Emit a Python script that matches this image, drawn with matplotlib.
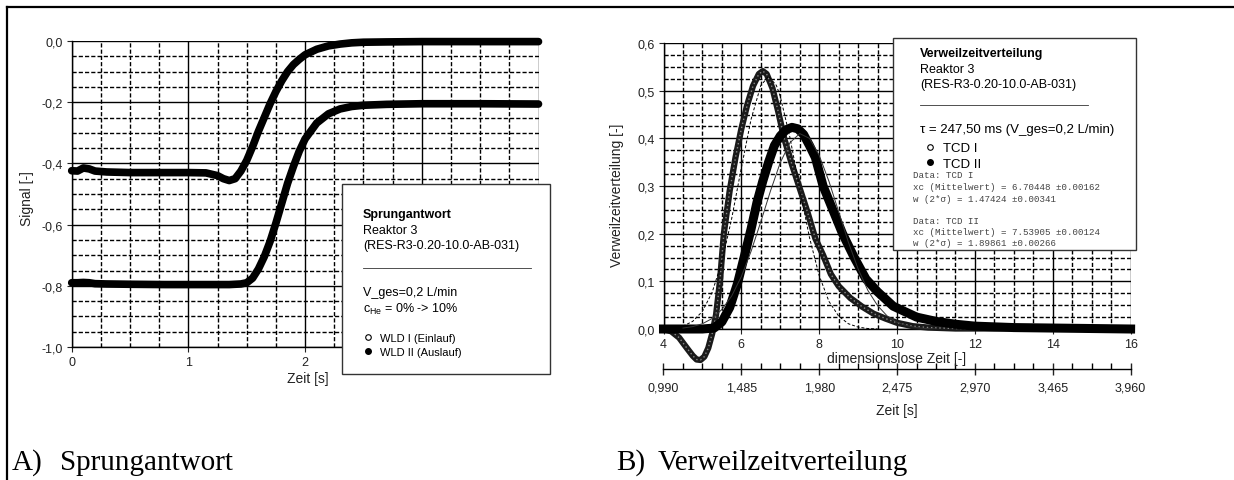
import numpy as np
import matplotlib.pyplot as plt
from matplotlib.ticker import MultipleLocator, FixedLocator, FuncFormatter
from matplotlib.patches import Rectangle
from matplotlib.lines import Line2D

plt.rcParams['font.family'] = ['Liberation Sans', 'DejaVu Sans']

# A) Sprungantwort - Zeit [s], Signal [-]
t_step = [0.0, 0.05, 0.1, 0.15, 0.2, 0.3, 0.5, 0.8, 1.0, 1.15, 1.25, 1.3, 1.35, 1.4,
          1.45, 1.5, 1.55, 1.6, 1.65, 1.7, 1.75, 1.8, 1.85, 1.9, 1.95, 2.0, 2.1, 2.2,
          2.3, 2.4, 2.5, 2.7, 3.0, 3.5, 4.0]
wld1 = [-0.424, -0.425, -0.415, -0.418, -0.425, -0.428, -0.430, -0.430, -0.430, -0.431,
        -0.440, -0.450, -0.456, -0.450, -0.425, -0.390, -0.345, -0.295, -0.250, -0.205,
        -0.165, -0.130, -0.100, -0.077, -0.060, -0.045, -0.027, -0.016, -0.010, -0.006,
        -0.004, -0.003, -0.002, -0.002, -0.002]
wld2 = [-0.790, -0.790, -0.789, -0.790, -0.793, -0.794, -0.795, -0.796, -0.796, -0.796,
        -0.796, -0.796, -0.796, -0.795, -0.794, -0.790, -0.775, -0.745, -0.705, -0.655,
        -0.595, -0.530, -0.465, -0.410, -0.360, -0.320, -0.268, -0.238, -0.222, -0.214,
        -0.210, -0.207, -0.205, -0.205, -0.206]

# B) Verweilzeitverteilung - dimensionslose Zeit [-]
theta1 = [4.0, 4.2, 4.4, 4.6, 4.75, 4.85, 4.95, 5.05, 5.15, 5.25, 5.35, 5.45, 5.55, 5.7,
          5.85, 6.0, 6.15, 6.3, 6.45, 6.55, 6.65, 6.8, 6.95, 7.1, 7.3, 7.5, 7.7, 7.9,
          8.1, 8.3, 8.5, 8.8, 9.1, 9.4, 9.7, 10.0, 10.4, 10.8, 11.5, 12.5, 13.5, 14.5,
          15.5, 16.0]
tcd1 = [0.0, -0.005, -0.018, -0.040, -0.056, -0.064, -0.065, -0.058, -0.040, -0.010,
        0.030, 0.100, 0.200, 0.290, 0.360, 0.420, 0.470, 0.510, 0.535, 0.541, 0.535,
        0.505, 0.455, 0.400, 0.345, 0.295, 0.245, 0.190, 0.155, 0.115, 0.090, 0.065,
        0.047, 0.032, 0.022, 0.013, 0.006, 0.003, 0.001, 0.001, 0.002, 0.003, 0.0, 0.0]
theta2 = [4.0, 4.5, 5.0, 5.3, 5.5, 5.7, 5.9, 6.1, 6.25, 6.4, 6.55, 6.7, 6.85, 7.0, 7.15,
          7.3, 7.45, 7.6, 7.75, 7.9, 8.1, 8.3, 8.6, 8.9, 9.2, 9.5, 9.9, 10.5, 11.0, 11.5,
          12.0, 13.0, 14.0, 15.0, 16.0]
tcd2 = [0.0, 0.0, 0.0, 0.002, 0.015, 0.045, 0.095, 0.160, 0.210, 0.265, 0.310, 0.350,
        0.385, 0.405, 0.418, 0.423, 0.420, 0.408, 0.385, 0.360, 0.300, 0.260, 0.200,
        0.150, 0.105, 0.078, 0.048, 0.025, 0.016, 0.010, 0.006, 0.003, 0.002, 0.001, 0.0]

# Gauss fits
fit1_x = [4.25, 4.5, 4.75, 5.0, 5.25, 5.5, 5.75, 6.0, 6.25, 6.5, 6.7, 6.9, 7.0, 7.25,
          7.5, 7.75, 8.0, 8.25, 8.5, 8.75, 9.0, 9.25, 9.5]
fit1_y = [0.002, 0.006, 0.016, 0.037, 0.077, 0.141, 0.231, 0.338, 0.440, 0.511, 0.530,
          0.511, 0.488, 0.401, 0.294, 0.192, 0.112, 0.058, 0.027, 0.011, 0.004, 0.001, 0.0]
fit2_x = [4.5, 4.75, 5.0, 5.25, 5.5, 5.75, 6.0, 6.25, 6.5, 6.75, 7.0, 7.25, 7.5, 7.75,
          8.0, 8.25, 8.5, 8.75, 9.0, 9.25, 9.5, 9.75, 10.0, 10.25, 10.5, 10.75, 11.0]
fit2_y = [0.002, 0.005, 0.011, 0.022, 0.041, 0.069, 0.110, 0.163, 0.225, 0.290, 0.349,
          0.391, 0.410, 0.400, 0.364, 0.310, 0.246, 0.182, 0.126, 0.081, 0.049, 0.027,
          0.014, 0.007, 0.003, 0.001, 0.0]

tau = 0.2475  # s
sec_ticks = [0.990, 1.485, 1.980, 2.475, 2.970, 3.465, 3.960]

W, H = 1234, 481


def fx(px):
    return px / W


def fy(py):
    return 1 - py / H


def comma(fmt):
    return FuncFormatter(lambda v, p: (fmt % (0.0 if abs(v) < 1e-9 else v)).replace('.', ','))


def style_grid(ax):
    ax.grid(which='major', color='k', lw=1.0, ls='-')
    ax.grid(which='minor', color='k', lw=1.0, ls=(0, (3, 1.5)))
    ax.tick_params(which='minor', length=0)
    ax.tick_params(which='major', direction='out', length=3.5, width=0.8,
                   labelsize=9, pad=3, colors='#222')
    for s in ['top', 'right']:
        ax.spines[s].set_visible(False)
    for s in ['left', 'bottom']:
        ax.spines[s].set_linewidth(1.0)


fig = plt.figure(figsize=(W / 100, H / 100), dpi=100)

# ---- A) Sprungantwort ----
ax1 = fig.add_axes([fx(71.7), fy(348), (538.5 - 71.7) / W, 306 / H])
ax1.plot(t_step, wld1, color='k', lw=5.5, solid_capstyle='round', clip_on=False, zorder=3)
ax1.plot(t_step, wld2, color='k', lw=5.5, solid_capstyle='round', clip_on=False, zorder=3)
ax1.set_xlim(0, 4)
ax1.set_ylim(-1, 0)
ax1.xaxis.set_major_locator(MultipleLocator(1))
ax1.xaxis.set_minor_locator(MultipleLocator(0.25))
ax1.yaxis.set_major_locator(MultipleLocator(0.2))
ax1.yaxis.set_minor_locator(MultipleLocator(0.05))
ax1.yaxis.set_major_formatter(comma('%.1f'))
style_grid(ax1)
ax1.set_xlabel('Zeit [s]', fontsize=10, color='#222')
ax1.set_ylabel('Signal [-]', fontsize=10, color='#222')
ax1.xaxis.set_label_coords(0.506, -0.08)
ax1.yaxis.set_label_coords(-0.08, 0.487)

# ---- B) Verweilzeitverteilung ----
ax2 = fig.add_axes([fx(663.5), fy(330), (1130.6 - 663.5) / W, 286 / H])
ax2.plot(theta1, tcd1, color='#1a1a1a', lw=4.5, clip_on=False, zorder=3)
ax2.plot(theta1, tcd1, color='#888', lw=1.0, ls=(0, (1, 2)), clip_on=False, zorder=3)
ax2.plot(theta2, tcd2, color='k', lw=6.5, clip_on=False, zorder=3)
ax2.plot(fit1_x, fit1_y, color='k', lw=0.7, ls=(0, (3, 2)), zorder=4)
ax2.plot(fit2_x, fit2_y, color='#333', lw=0.7, zorder=4)
ax2.set_xlim(4, 16)
ax2.set_ylim(0, 0.6)
ax2.xaxis.set_major_locator(MultipleLocator(2))
ax2.xaxis.set_minor_locator(MultipleLocator(0.5))
ax2.yaxis.set_major_locator(MultipleLocator(0.1))
ax2.yaxis.set_minor_locator(MultipleLocator(0.025))
ax2.yaxis.set_major_formatter(comma('%.1f'))
style_grid(ax2)
ax2.set_xlabel('dimensionslose Zeit [-]', fontsize=10, color='#222', labelpad=1)
ax2.set_ylabel('Verweilzeitverteilung [-]', fontsize=10, color='#222')
ax2.yaxis.set_label_coords(-0.085, 0.47)

sec = ax2.secondary_xaxis(-40 / 286, functions=(lambda x: x * tau, lambda x: x / tau))
sec.xaxis.set_major_locator(FixedLocator(sec_ticks))
sec.xaxis.set_minor_locator(MultipleLocator(tau / 2))
sec.xaxis.set_major_formatter(comma('%.3f'))
sec.tick_params(which='major', direction='inout', length=8, width=1, labelsize=9,
                pad=5, colors='#222')
sec.tick_params(which='minor', direction='in', length=4, width=1)
sec.spines['bottom'].set_linewidth(1.0)
sec.set_xlabel('Zeit [s]', fontsize=10, color='#222', labelpad=7)

# ---- info boxes ----
fig.add_artist(Rectangle((fx(342), fy(375)), (550 - 342) / W, (375 - 185) / H,
                         transform=fig.transFigure, fc='white', ec='#333', lw=1, zorder=4))
fig.text(fx(363), fy(215), 'Sprungantwort', fontsize=9, weight='bold', va='center', zorder=5)
fig.text(fx(363), fy(231), 'Reaktor 3', fontsize=9, va='center', zorder=5)
fig.text(fx(363), fy(246), '(RES-R3-0.20-10.0-AB-031)', fontsize=9, va='center', zorder=5)
fig.add_artist(Line2D([fx(363), fx(531)], [fy(269), fy(269)], color='#333', lw=0.6, zorder=5))
fig.text(fx(363), fy(293), 'V_ges=0,2 L/min', fontsize=9, va='center', zorder=5)
fig.text(fx(363), fy(309), r'c$_{\mathregular{He}}$ = 0% -> 10%', fontsize=9, va='center', zorder=5)
h_open = Line2D([], [], ls='none', marker='o', ms=4, mfc='white', mec='k', mew=0.8)
h_full = Line2D([], [], ls='none', marker='o', ms=4, mfc='k', mec='k')
fig.legend([h_open, h_full], ['WLD I (Einlauf)', 'WLD II (Auslauf)'], loc='center left',
           bbox_to_anchor=(fx(362), fy(346)), frameon=False, fontsize=8,
           handlelength=1, handletextpad=0.6, labelspacing=0.35, borderpad=0,
           borderaxespad=0)

fig.add_artist(Rectangle((fx(893), fy(251)), (1136 - 893) / W, (251 - 39) / H,
                         transform=fig.transFigure, fc='white', ec='#333', lw=1, zorder=4))
fig.text(fx(920), fy(54), 'Verweilzeitverteilung', fontsize=9, weight='bold', va='center', zorder=5)
fig.text(fx(920), fy(70), 'Reaktor 3', fontsize=9, va='center', zorder=5)
fig.text(fx(920), fy(85), '(RES-R3-0.20-10.0-AB-031)', fontsize=9, va='center', zorder=5)
fig.add_artist(Line2D([fx(920), fx(1088)], [fy(106), fy(106)], color='#333', lw=0.6, zorder=5))
fig.text(fx(920), fy(130), 'τ = 247,50 ms (V_ges=0,2 L/min)', fontsize=9.5, va='center', zorder=5)
fig.legend([h_open, h_full], ['TCD I', 'TCD II'], loc='center left',
           bbox_to_anchor=(fx(925), fy(157)), frameon=False, fontsize=9.5,
           handlelength=0.8, handletextpad=0.6, labelspacing=0.25, borderpad=0,
           borderaxespad=0)
mono = ['Data: TCD I', 'xc (Mittelwert) = 6.70448 ±0.00162', 'w (2*σ) = 1.47424 ±0.00341',
        'Data: TCD II', 'xc (Mittelwert) = 7.53905 ±0.00124', 'w (2*σ) = 1.89861 ±0.00266']
for s, py in zip(mono, [176, 188, 200, 222, 233, 244]):
    fig.text(fx(913), fy(py), s, fontsize=6.6, family=['Liberation Mono', 'DejaVu Sans Mono'],
             color='#444', va='center', zorder=5)

# ---- frame and captions ----
fig.add_artist(Line2D([fx(7), 1], [fy(8), fy(8)], color='k', lw=1.6))
fig.add_artist(Line2D([fx(7), fx(7)], [fy(8), 0], color='k', lw=1.6))
serif = ['Liberation Serif', 'DejaVu Serif']
fig.text(fx(12), fy(463), 'A)', fontsize=21, family=serif, va='center')
fig.text(fx(60), fy(463), 'Sprungantwort', fontsize=21, family=serif, va='center')
fig.text(fx(616), fy(463), 'B)', fontsize=21, family=serif, va='center')
fig.text(fx(658), fy(463), 'Verweilzeitverteilung', fontsize=21, family=serif, va='center')

fig.savefig('out.png', dpi=100)
